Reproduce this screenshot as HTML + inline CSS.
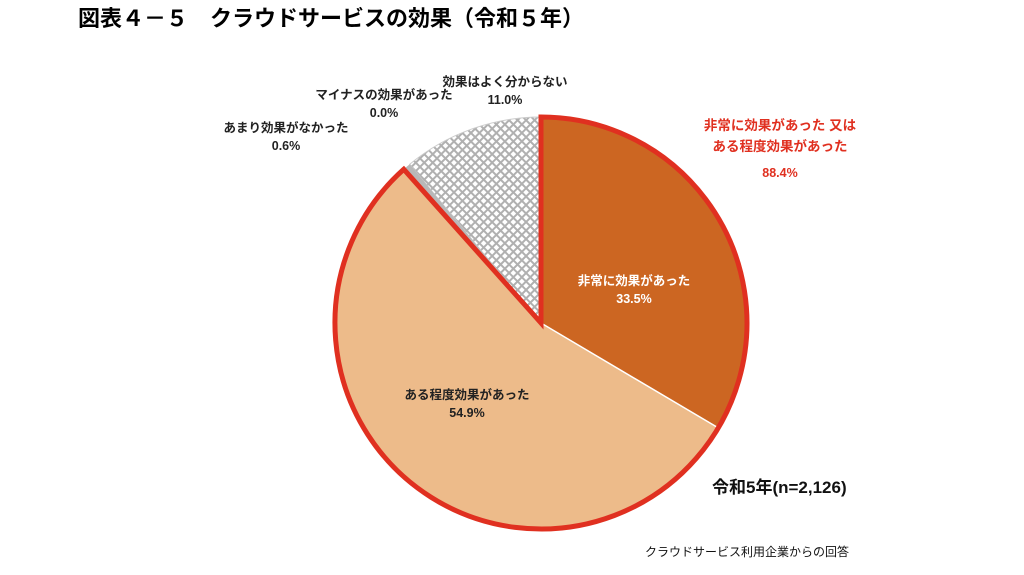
<!DOCTYPE html>
<html><head><meta charset="utf-8"><style>
body{margin:0;background:#fff;width:1024px;height:570px;overflow:hidden;font-family:"Liberation Sans","Noto Sans CJK JP",sans-serif;}
</style></head><body>
<svg width="1024" height="570" xmlns="http://www.w3.org/2000/svg" font-family="Liberation Sans, Noto Sans CJK JP, sans-serif">
<defs>
<pattern id="hx" width="6" height="6" patternUnits="userSpaceOnUse" patternTransform="rotate(45)">
<rect width="6" height="6" fill="#fff"/>
<rect width="6" height="2" fill="#b0b0b0"/>
<rect width="2" height="6" fill="#b0b0b0"/>
</pattern>
</defs>
<text x="78" y="26" font-size="22" font-weight="bold" fill="#000">図表４－５　クラウドサービスの効果（令和５年）</text>
<path d="M541,323 L409.7,164.3 A206,206 0 0 1 541,117 Z" fill="url(#hx)" stroke="#ccc" stroke-width="1"/>
<path d="M541,323 L403.8,169.3 A206,206 0 0 1 409.7,164.3 Z" fill="#b8b8b8"/>
<path d="M541,323 L718.3,427.9 A206,206 0 1 1 403.8,169.3 Z" fill="#EDBB8A" stroke="#fff" stroke-width="1"/>
<path d="M541,323 L541,117 A206,206 0 0 1 718.3,427.9 Z" fill="#CC6622" stroke="#fff" stroke-width="1.5"/>
<path d="M541,323 L541,117 A206,206 0 1 1 403.8,169.3 Z" fill="none" stroke="#E03020" stroke-width="5" stroke-linejoin="miter"/>
<g font-size="12.5" font-weight="bold" text-anchor="middle">
<text x="634" y="285" fill="#fff">非常に効果があった</text>
<text x="634" y="303" fill="#fff">33.5%</text>
<text x="467" y="399" fill="#222">ある程度効果があった</text>
<text x="467" y="417" fill="#222">54.9%</text>
<text x="505" y="86" fill="#222">効果はよく分からない</text>
<text x="505" y="104" fill="#222">11.0%</text>
<text x="384" y="99" fill="#222">マイナスの効果があった</text>
<text x="384" y="117" fill="#222">0.0%</text>
<text x="286" y="132" fill="#222">あまり効果がなかった</text>
<text x="286" y="150" fill="#222">0.6%</text>
</g>
<g font-size="13.5" font-weight="bold" text-anchor="middle" fill="#E03020">
<text x="780" y="130">非常に効果があった 又は</text>
<text x="780" y="151">ある程度効果があった</text>
<text x="780" y="177" font-size="12.5">88.4%</text>
</g>
<text x="712" y="493" font-size="17" font-weight="bold" fill="#111">令和5年(n=2,126)</text>
<text x="645" y="556" font-size="12" fill="#111">クラウドサービス利用企業からの回答</text>
</svg>
</body></html>
